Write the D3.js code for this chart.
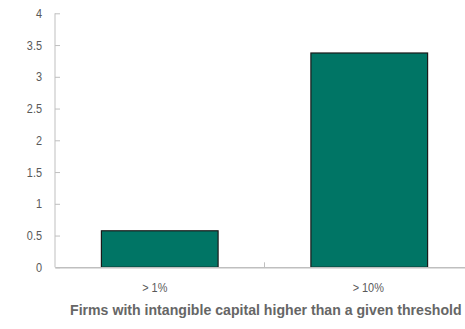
<!DOCTYPE html>
<html>
<head>
<meta charset="utf-8">
<script src="https://cdn.jsdelivr.net/npm/d3@7/dist/d3.min.js"></script>
<style>
  html, body { margin: 0; padding: 0; background: #fff; }
  svg { display: block; }
  .tick text { font-family: "Liberation Sans", Arial, sans-serif; }
</style>
</head>
<body>
<svg id="chart" width="465" height="329"></svg>
<script>
const categories = ["> 1%", "> 10%"];
const values = [0.575, 3.375];
const yTicks = [0, 0.5, 1, 1.5, 2, 2.5, 3, 3.5, 4];
const xTitle = "Firms with intangible capital higher than a given threshold";

const svg = d3.select("#chart");
const m = { left: 55, top: 13.3, bottom: 267.3, right: 474 };
const axisColor = "#bfbfbf";
const textColor = "#595959";
const font = '"Liberation Sans", Arial, sans-serif';
const sx = 0.84; // condensed look

const x = d3.scaleBand().domain(categories).range([m.left, m.right]).padding(0);
const y = d3.scaleLinear().domain([0, 4]).range([m.bottom, m.top]);
const barRatio = 0.557;

// bars
svg.append("g").selectAll("rect")
  .data(categories.map((c, i) => ({ c, v: values[i] })))
  .join("rect")
  .attr("x", d => x(d.c) + x.bandwidth() * (1 - barRatio) / 2)
  .attr("width", x.bandwidth() * barRatio)
  .attr("y", d => y(d.v))
  .attr("height", d => y(0) - y(d.v))
  .attr("fill", "#007565")
  .attr("stroke", "#1a1a1a")
  .attr("stroke-width", 1.2);

// y axis
const yAxis = svg.append("g")
  .attr("transform", `translate(${m.left},0)`)
  .call(d3.axisRight(y).tickValues(yTicks).tickSize(5).tickFormat(d3.format("")));
yAxis.select(".domain").attr("stroke", axisColor).attr("d", `M0,${m.top}V${m.bottom}`);
yAxis.selectAll(".tick line").attr("stroke", axisColor);
yAxis.selectAll(".tick text")
  .attr("x", -13 / sx)
  .attr("transform", `scale(${sx},1)`)
  .attr("text-anchor", "end")
  .attr("fill", textColor)
  .style("font-size", "13px");

// x axis
const xAxis = svg.append("g")
  .attr("transform", `translate(0,${m.bottom})`)
  .call(d3.axisBottom(x).tickSize(0).tickPadding(15));
xAxis.select(".domain").attr("stroke", axisColor).attr("stroke-width", 1.5);
xAxis.selectAll(".tick text")
  .attr("fill", textColor)
  .attr("transform", `scale(${sx},1)`)
  .style("font-size", "13px");
xAxis.selectAll(".tick").each(function (d, i) {
  d3.select(this).attr("transform", `translate(${x(d) + x.bandwidth() / 2 - (i === 0 ? 5 : 1)},0)`);
});
// category separator ticks
xAxis.append("g").selectAll("line")
  .data(categories.slice(1))
  .join("line")
  .attr("x1", d => x(d)).attr("x2", d => x(d))
  .attr("y1", 0).attr("y2", -5)
  .attr("stroke", axisColor);

// x title, condensed to span 70..462
const title = svg.append("text")
  .attr("x", 0)
  .attr("y", 0)
  .attr("fill", "#666666")
  .attr("font-family", font)
  .attr("font-weight", "bold")
  .attr("font-size", "15px")
  .text(xTitle);
const natural = title.node().getComputedTextLength();
const tsx = 392 / natural;
title.attr("transform", `translate(70,315) scale(${tsx},1)`);
</script>
</body>
</html>
